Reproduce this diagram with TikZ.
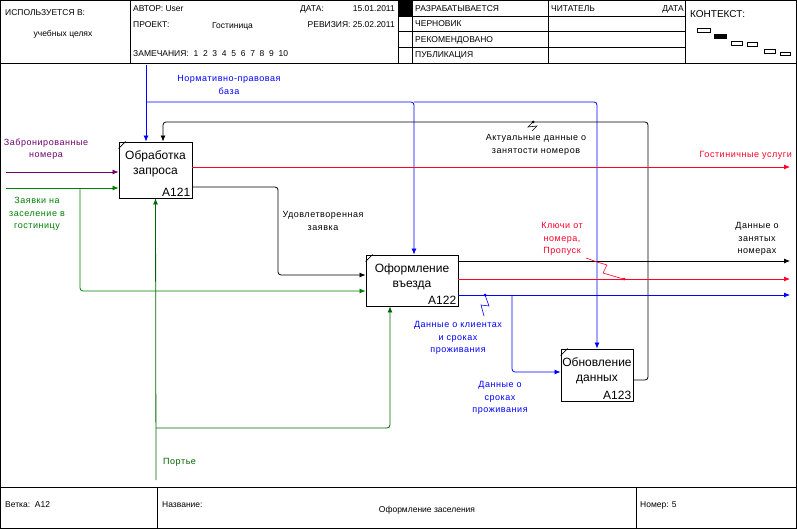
\documentclass[tikz,border=0pt]{standalone}
\usepackage{fontspec}
\setmainfont{Liberation Sans}
\usetikzlibrary{arrows.meta}

\newcommand{\hdrfont}{\fontsize{8.5}{10}\selectfont}
\newcommand{\lblfont}{\fontsize{9}{12.5}\selectfont\addfontfeatures{LetterSpace=6}}
\definecolor{ctlblue}{RGB}{0,0,255}
\definecolor{outred}{RGB}{255,0,40}
\definecolor{ingreen}{RGB}{0,128,0}
\definecolor{mechgreen}{RGB}{0,100,0}
\definecolor{inpurple}{RGB}{110,0,110}

\tikzset{
  box/.style={draw,line width=0.9pt,minimum width=#1,inner sep=0pt},
  arr/.style={line width=0.8pt,-{Latex[length=6pt,width=5pt]},rounded corners=3pt},
  lbl/.style={font=\lblfont,align=center,inner sep=0pt},
  hdr/.style={font=\hdrfont,anchor=west,inner sep=0pt},
  squig/.style={line width=0.6pt}
}

\begin{document}
\begin{tikzpicture}[x=1pt,y=-1pt]
  \useasboundingbox (0,0) rectangle (797,529);
  \draw[line width=1.2pt] (0.6,0.6) rectangle (796.4,528.4);

  % header
  \draw[line width=0.8pt] (0,63) -- (797,63);
  \foreach \x in {130,398,412,548,685}
    \draw[line width=0.8pt] (\x,0) -- (\x,63);
  \foreach \y in {16,31,47}
    \draw[line width=0.6pt] (398,\y) -- (685,\y);
  \fill (398,0) rectangle (412,16);

  \node[hdr] (used) at (5,13) {ИСПОЛЬЗУЕТСЯ В:};
  \node[hdr,anchor=center] (usedfor) at (63,34) {учебных целях};
  \node[hdr] (author) at (133,9) {АВТОР: User};
  \node[hdr] (datelbl) at (300,9) {ДАТА:};
  \node[hdr,anchor=east] (date) at (395,9) {15.01.2011};
  \node[hdr] (project) at (133,25) {ПРОЕКТ:};
  \node[hdr] (projname) at (212,26) {Гостиница};
  \node[hdr,anchor=east] (revision) at (395,25) {РЕВИЗИЯ: 25.02.2011};
  \node[hdr] (notes) at (133,54) {ЗАМЕЧАНИЯ:\ \ 1\ \ 2\ \ 3\ \ 4\ \ 5\ \ 6\ \ 7\ \ 8\ \ 9\ \ 10};
  \node[hdr] (st1) at (415,9) {РАЗРАБАТЫВАЕТСЯ};
  \node[hdr] (st2) at (415,24) {ЧЕРНОВИК};
  \node[hdr] (st3) at (415,40) {РЕКОМЕНДОВАНО};
  \node[hdr] (st4) at (415,55) {ПУБЛИКАЦИЯ};
  \node[hdr] (reader) at (551,9) {ЧИТАТЕЛЬ};
  \node[hdr,anchor=east] (rdate) at (684,9) {ДАТА};
  \node[hdr,font=\fontsize{10}{12}\selectfont] (context) at (690,14) {КОНТЕКСТ:};
  \draw[line width=0.7pt] (697,28) rectangle (710,32);
  \filldraw[line width=0.7pt] (714,34) rectangle (726,38);
  \draw[line width=0.7pt] (731,41) rectangle (742,45);
  \draw[line width=0.7pt] (747,42) rectangle (757,46);
  \draw[line width=0.7pt] (764,49) rectangle (775,53);
  \draw[line width=0.7pt] (780,52) rectangle (790,55);

  % footer
  \draw[line width=0.8pt] (0,487) -- (797,487);
  \draw[line width=0.8pt] (157,487) -- (157,529);
  \draw[line width=0.8pt] (636,487) -- (636,529);
  \node[hdr] (branch) at (5,505) {Ветка:\ \ A12};
  \node[hdr] (titlelbl) at (162,505) {Название:};
  \node[hdr,anchor=center] (title) at (427,510) {Оформление заселения};
  \node[hdr] (number) at (640,505) {Номер: 5};

  % boxes
  \node[box=73pt,minimum height=56pt] (a121) at (155.5,170) {};
  \node[box=92pt,minimum height=51pt] (a122) at (412,280.5) {};
  \node[box=72pt,minimum height=52pt] (a123) at (597,375) {};
  \foreach \b/\t/\n in {a121/{Обработка\\запроса}/A121,a122/{Оформление\\въезда}/A122,a123/{Обновление\\данных}/A123}{
    \draw[line width=0.6pt] ([yshift=-7pt]\b.north west) -- ([xshift=7pt]\b.north west);
    \node[font=\fontsize{12}{15}\selectfont,align=center,anchor=north,inner sep=0pt] at ([yshift=-9pt]\b.north) {\t};
    \node[font=\fontsize{12}{15}\selectfont,anchor=south east,inner sep=2pt] at (\b.south east) {\n};
  }

  % attachment points
  \coordinate (a121i1) at ([yshift=-2pt]a121.west);
  \coordinate (a121i2) at ([yshift=-18pt]a121.west);
  \coordinate (a121o1) at ([yshift=3pt]a121.east);
  \coordinate (a121o2) at ([yshift=-17pt]a121.east);
  \coordinate (a122i1) at ([yshift=5.5pt]a122.west);
  \coordinate (a122i2) at ([yshift=-10.5pt]a122.west);
  \coordinate (a122o1) at ([yshift=19.5pt]a122.east);
  \coordinate (a122o2) at ([yshift=1.5pt]a122.east);
  \coordinate (a122o3) at ([yshift=-14.5pt]a122.east);
  \coordinate (a122m) at ([xshift=-22pt]a122.south);
  \coordinate (a123i) at ([yshift=3pt]a123.west);
  \coordinate (a123o) at ([yshift=-5pt]a123.east);

  \coordinate (lf) at (6,0);
  \coordinate (rt) at (790,0);
  \coordinate (ctlin) at (146,65);
  \coordinate (ctlsplit) at (146,102);
  \coordinate (c2) at (414,102);
  \coordinate (c3) at (597,102);
  \coordinate (fb) at (648,122);
  \coordinate (fbl) at (163,122);
  \coordinate (gsplit) at (80,188);
  \coordinate (sat) at (278,0);
  \coordinate (mech) at (156,480);
  \coordinate (msplit) at (156,428);
  \coordinate (bx) at (512,0);
  \coordinate (bsplit) at (a122o3 -| bx);

  % control
  \draw[arr,ctlblue] (ctlin) -- (ctlin |- a121.north);
  \draw[arr,ctlblue] (ctlsplit) -- (c2) -- (c2 |- a122.north);
  \draw[arr,ctlblue] (c2) -- (c3) -- (c3 |- a123.north);
  \node[lbl,text=ctlblue] (normlbl) at (229,85) {Нормативно-правовая\\база};

  % feedback
  \draw[arr] (a123o) -- (a123o -| fb) -- (fb) -- (fbl) -- (fbl |- a121.north);
  \node[lbl] (actlbl) at (536,145) {Актуальные данные о\\занятости номеров};
  \draw[squig] (533,122) -- (528,127) -- (537,126) -- (532,131);
  \fill (533,122) circle (1.5pt);

  % inputs
  \draw[arr,inpurple] (lf |- a121i1) -- (a121i1);
  \node[lbl,text=inpurple] (bookedlbl) at (46,149) {Забронированные\\номера};
  \draw[arr,ingreen] (lf |- a121i2) -- (a121i2);
  \draw[arr,ingreen] (gsplit) -- (gsplit |- a122i2) -- (a122i2);
  \node[lbl,text=ingreen] (reqlbl) at (37,214) {Заявки на\\заселение в\\гостиницу};

  % outputs of A121
  \draw[arr,outred] (a121o1) -- (a121o1 -| rt);
  \node[lbl,text=outred,anchor=east] (servlbl) at (792,155) {Гостиничные услуги};
  \draw[arr] (a121o2) -- (a121o2 -| sat) -- (sat |- a122i1) -- (a122i1);
  \node[lbl] (satlbl) at (323,221) {Удовлетворенная\\заявка};

  % mechanism
  \draw[arr,mechgreen] (mech) -- (a121.south);
  \draw[arr,mechgreen] (msplit) -- (msplit -| a122m) -- (a122m);
  \node[lbl,text=mechgreen,anchor=west] (porterlbl) at (163,462) {Портье};

  % outputs of A122
  \draw[arr] (a122o1) -- (a122o1 -| rt);
  \node[lbl] (occlbl) at (757,239) {Данные о\\занятых\\номерах};
  \draw[arr,outred] (a122o2) -- (a122o2 -| rt);
  \node[lbl,text=outred] (keyslbl) at (562,239) {Ключи от\\номера,\\Пропуск};
  \draw[squig,outred] (586,258) -- (597,262) -- (607,265) -- (603,273) -- (620,278) -- (624,279);
  \fill[outred] (624,279) circle (1.5pt);
  \draw[arr,ctlblue] (a122o3) -- (a122o3 -| rt);
  \node[lbl,text=ctlblue] (clientlbl) at (458,338) {Данные о клиентах\\и сроках\\проживания};
  \draw[squig,ctlblue] (485,295) -- (489,306) -- (481,305) -- (484,316);
  \fill[ctlblue] (485,295) circle (1.5pt);
  \draw[arr,ctlblue] (bsplit) -- (bsplit |- a123i) -- (a123i);
  \node[lbl,text=ctlblue] (staylbl) at (500,398) {Данные о\\сроках\\проживания};
\end{tikzpicture}
\end{document}
